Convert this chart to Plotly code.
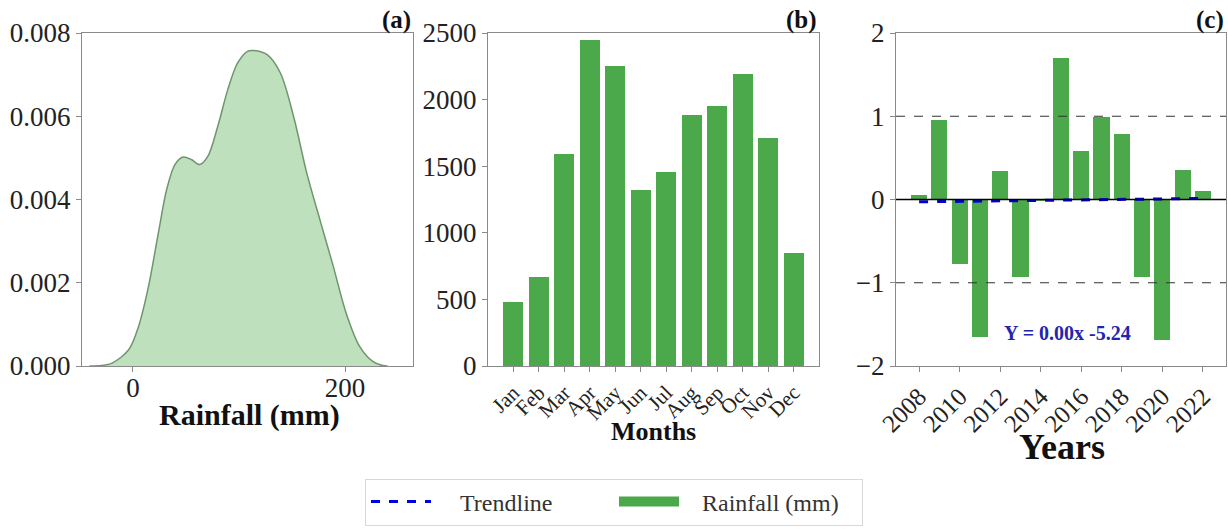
import numpy as np
import plotly.graph_objects as go

# ---------------- data ----------------
# (a) density curve of rainfall
kde_x = [-41, -30, -19.6, -4, 5.3, 14.6, 24, 31.8, 39.6, 47.4, 55, 63, 70.7, 80, 89.4,
         98.7, 108, 114, 126.5, 139, 151.4, 163.8, 176.3, 188.8, 201, 213.7, 226, 235.5, 240]
kde_y = [0.0, 0.00001, 0.00007, 0.00039, 0.00095, 0.0019, 0.0032, 0.00424, 0.00484, 0.00502,
         0.00496, 0.00484, 0.00504, 0.00576, 0.00664, 0.00728, 0.00756, 0.00758, 0.00748,
         0.00704, 0.0060, 0.00464, 0.00351, 0.0024, 0.00127, 0.00047, 0.00011, 0.00001, 0.0]

# (b) monthly rainfall totals
months = ["Jan", "Feb", "Mar", "Apr", "May", "Jun", "Jul", "Aug", "Sep", "Oct", "Nov", "Dec"]
monthly_rain = [483, 666, 1591, 2450, 2250, 1323, 1453, 1886, 1954, 2194, 1711, 847]

# (c) standardized annual rainfall anomaly
years = list(range(2008, 2023))
anomaly = [0.06, 0.95, -0.77, -1.65, 0.34, -0.93, -0.02, 1.70, 0.585, 0.99, 0.79,
           -0.93, -1.69, 0.36, 0.10]
year_ticks = list(range(2008, 2023, 2))
equation_text = "Y = 0.00x -5.24"

# ---------------- styling ----------------
FONT = "Liberation Serif"
GREEN = "#4ba84b"
FRAME = "#8a8a8a"
W, H = 1228, 529
NB = "\u00a0"


def px_x(p):
    return p / W


def px_y(p):
    return 1 - p / H


fig = go.Figure()

# (a) KDE
fig.add_trace(go.Scatter(
    x=kde_x, y=kde_y, mode="lines", fill="tozeroy",
    line=dict(color="#6f956f", width=1.5, shape="spline", smoothing=0.9),
    fillcolor="rgba(120,190,115,0.48)", showlegend=False,
    xaxis="x", yaxis="y"))

# (b) monthly bars
fig.add_trace(go.Bar(
    x=months, y=monthly_rain, marker=dict(color=GREEN, line=dict(width=0)),
    width=0.8, showlegend=False, xaxis="x2", yaxis="y2"))

# (c) anomaly bars + trend
fig.add_trace(go.Bar(
    x=years, y=anomaly, marker=dict(color=GREEN, line=dict(width=0)),
    width=0.8, name="Rainfall (mm)", showlegend=False, xaxis="x3", yaxis="y3"))

slope, intercept = np.polyfit(years, anomaly, 1)
trend = [slope * y + intercept for y in years]
fig.add_trace(go.Scatter(
    x=years, y=trend, mode="lines", name=NB * 4 + "Trendline",
    line=dict(color="#0000e0", width=3, dash="dash"),
    xaxis="x3", yaxis="y3", legendrank=1))

# legend swatch for the bars (wide rectangle like the reference)
fig.add_trace(go.Scatter(
    x=[None], y=[None], mode="lines", name=NB * 3 + "Rainfall (mm)",
    line=dict(color=GREEN, width=18), xaxis="x3", yaxis="y3", legendrank=2))

ydom = [px_y(366), px_y(33)]
common_axis = dict(
    showline=True, linecolor=FRAME, linewidth=1.2, mirror=True,
    ticks="outside", ticklen=5, tickcolor=FRAME, showgrid=False, zeroline=False,
    tickfont=dict(family=FONT, size=27, color="#222"))

fig.update_layout(
    width=W, height=H,
    margin=dict(l=0, r=0, t=0, b=0, autoexpand=False),
    paper_bgcolor="white", plot_bgcolor="white",
    font=dict(family=FONT, color="#222"),
    bargap=0,
    xaxis=dict(common_axis, domain=[px_x(82), px_x(413)], range=[-48, 264],
               tickvals=[0, 200], anchor="y", ticklabelstandoff=-8),
    yaxis=dict(common_axis, domain=ydom, range=[0, 0.008],
               tickvals=[0, 0.002, 0.004, 0.006, 0.008], tickformat=".3f", anchor="x"),
    xaxis2=dict(common_axis, domain=[px_x(488), px_x(819)], range=[-0.99, 11.99],
                type="category", tickangle=-45,
                tickfont=dict(family=FONT, size=21, color="#222"), anchor="y2"),
    yaxis2=dict(common_axis, domain=ydom, range=[0, 2500],
                tickvals=[0, 500, 1000, 1500, 2000, 2500], anchor="x2"),
    xaxis3=dict(common_axis, domain=[px_x(896), px_x(1226)], range=[2006.86, 2023.14],
                tickvals=year_ticks, tickangle=-45,
                tickfont=dict(family=FONT, size=25, color="#222"), anchor="y3"),
    yaxis3=dict(common_axis, domain=ydom, range=[-2, 2],
                tickvals=[-2, -1, 0, 1, 2], anchor="x3"),
    legend=dict(orientation="h", x=px_x(614), y=px_y(502), xanchor="center", yanchor="middle",
                font=dict(family=FONT, size=24, color="#333"),
                bordercolor="#d8d8d8", borderwidth=1, bgcolor="white",
                itemwidth=60, entrywidth=173, tracegroupgap=0),
)

# reference lines in (c)
fig.add_shape(type="line", xref="x3 domain", yref="y3", x0=0, x1=1, y0=0, y1=0,
              line=dict(color="black", width=1.5), layer="above")
for v in (1, -1):
    fig.add_shape(type="line", xref="x3 domain", yref="y3", x0=0, x1=1, y0=v, y1=v,
                  line=dict(color="#333", width=1.2, dash="dash"), layer="above")

annos = [
    dict(text="<b>Rainfall (mm)</b>", x=px_x(249), y=px_y(415), size=30),
    dict(text="<b>Months</b>", x=px_x(653), y=px_y(431), size=26),
    dict(text="<b>Years</b>", x=px_x(1062), y=px_y(447), size=36),
]
for a in annos:
    fig.add_annotation(text=a["text"], x=a["x"], y=a["y"], xref="paper", yref="paper",
                       showarrow=False, xanchor="center", yanchor="middle",
                       font=dict(family=FONT, size=a["size"], color="#111"))

for lbl, xr in (("(a)", 413), ("(b)", 819), ("(c)", 1226)):
    fig.add_annotation(text=f"<b>{lbl}</b>", x=px_x(xr), y=px_y(20), xref="paper", yref="paper",
                       showarrow=False, xanchor="right", yanchor="middle",
                       font=dict(family=FONT, size=25, color="#111"))

fig.add_annotation(text=f"<b>{equation_text}</b>", x=2015.3, y=-1.6, xref="x3", yref="y3",
                   showarrow=False, xanchor="center", yanchor="middle",
                   font=dict(family=FONT, size=20, color="#2424b0"))

fig.write_html("out.html")
